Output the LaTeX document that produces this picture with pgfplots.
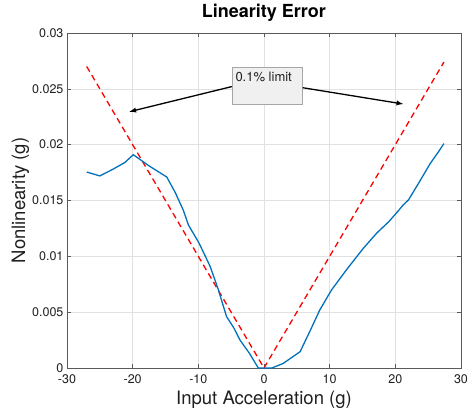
\documentclass[border=0pt]{standalone}
\usepackage{fontspec}
\setmainfont{TeX Gyre Heros}
\usepackage{pgfplots}
\pgfplotsset{compat=1.18}
\definecolor{mblue}{RGB}{0,114,189}
\definecolor{axgray}{RGB}{90,90,90}
\definecolor{gridgray}{RGB}{225,225,225}
\begin{document}
\begin{tikzpicture}
\begin{axis}[
  scale only axis, width=394pt, height=335pt,
  xmin=-30, xmax=30, ymin=0, ymax=0.03,
  xtick={-30,-20,...,30},
  ytick={0,0.005,...,0.0301},
  scaled y ticks=false,
  yticklabel style={/pgf/number format/fixed,/pgf/number format/precision=3},
  /pgf/number format/assume math mode=true,
  tick label style={font=\fontsize{12.5}{14}\selectfont, color=black!88},
  xticklabel style={yshift=-3pt},
  tick align=inside, major tick length=4pt,
  every tick/.style={axgray, line width=0.5pt},
  axis line style={axgray, line width=0.6pt},
  grid=major, major grid style={gridgray, line width=0.5pt},
  title={\textbf{Linearity Error}},
  title style={font=\fontsize{18}{20}\selectfont, at={(axis description cs:0.5,1.042)}, anchor=center},
  xlabel={Input Acceleration (g)},
  ylabel={Nonlinearity (g)},
  xlabel style={font=\fontsize{18.5}{20}\selectfont, at={(axis description cs:0.5,-0.095)}, anchor=center, color=black!88},
  ylabel style={font=\fontsize{18.5}{20}\selectfont, at={(axis description cs:-0.118,0.5)}, anchor=center, rotate=0, color=black!88},
  clip=false,
]
\addplot[red, dashed, line width=1.3pt, dash pattern=on 6pt off 4pt] coordinates {
  (-27,0.027) (0,0) (27.4,0.0274)
};
\addplot[mblue, line width=1.3pt] coordinates {
  (-27,0.01755) (-25,0.0172) (-23,0.0178) (-21.2,0.0184) (-19.9,0.0191)
  (-17.5,0.0181) (-14.8,0.0171) (-13.5,0.0157) (-12.3,0.01415) (-11.5,0.0128)
  (-9.9,0.0112) (-8.2,0.0091) (-7,0.0071) (-5.7,0.0046) (-4.6,0.0036)
  (-3.65,0.0025) (-2.2,0.0013) (-0.87,0) (1.2,0) (2.9,0.0004) (5.5,0.00146)
  (7,0.0033) (8.5,0.0052) (10.3,0.007) (12.7,0.0089) (15.1,0.0107)
  (17.2,0.0121) (19,0.0131) (20.2,0.0139) (21.2,0.0146) (22,0.01505)
  (23.7,0.0167) (25.3,0.0183) (26.5,0.0193) (27.4,0.0201)
};
\draw[draw=gray!70, fill=gray!12, line width=0.5pt] (axis cs:-4.9,0.02364) rectangle (axis cs:5.9,0.02695);
\node[anchor=north west, font=\fontsize{13}{15}\selectfont, inner sep=0pt, color=black!88] at ([xshift=3.5pt,yshift=-5pt]axis cs:-4.9,0.02695) {0.1\% limit};
\draw[-latex, line width=1.3pt, black] (axis cs:-4.9,0.0252) -- (axis cs:-20.5,0.02295);
\draw[-latex, line width=1.3pt, black] (axis cs:5.9,0.0251) -- (axis cs:21.2,0.02364);
\coordinate (bbl) at (axis description cs:-0.170,-0.1433);
\coordinate (btr) at (axis description cs:1.0254,1.0985);
\end{axis}
\pgfresetboundingbox
\path[use as bounding box] (bbl) rectangle (btr);
\end{tikzpicture}
\end{document}
